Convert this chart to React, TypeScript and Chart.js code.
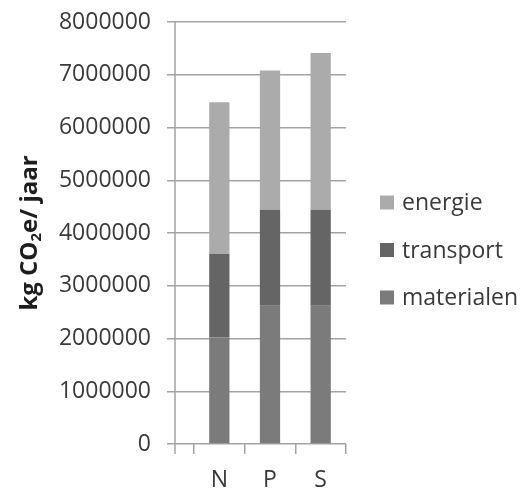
import { useEffect, useRef } from 'react';
import { Chart, registerables } from 'chart.js';

Chart.register(...registerables);

// Categories and stacked series (kg CO2e per year)
const categories = ['N', 'P', 'S'];
const materialen = [2020000, 2620000, 2620000];
const transport = [1580000, 1820000, 1820000];
const energie = [2880000, 2640000, 2970000];

// Value axis range
const yMin = 0;
const yMax = 8000000;
const yStep = 1000000;

// Axis title pieces (the "2" is drawn as a subscript)
const titleHead = 'kg CO';
const titleSub = '2';
const titleTail = 'e/ jaar';

const FONT = '"Open Sans", "Liberation Sans", sans-serif';
const GRID = '#a3a3a3';
const TEXT = '#3a3a3a';

const axisExtension = {
  id: 'axisExtension',
  beforeDatasetsDraw(chart: any) {
    const { ctx, chartArea } = chart;
    const x = chartArea.left - 19;
    ctx.save();
    ctx.strokeStyle = GRID;
    ctx.lineWidth = 1.5;
    ctx.beginPath();
    ctx.moveTo(x, chartArea.top);
    ctx.lineTo(x, chartArea.bottom + 10);
    ctx.stroke();
    ctx.restore();
  },
};

const yAxisTitle = {
  id: 'yAxisTitle',
  afterDraw(chart: any) {
    const { ctx, chartArea } = chart;
    const big = `bold 24px ${FONT}`;
    const small = `bold 15px ${FONT}`;
    ctx.save();
    ctx.translate(37, (chartArea.top + chartArea.bottom) / 2);
    ctx.rotate(-Math.PI / 2);
    ctx.textBaseline = 'alphabetic';
    ctx.textAlign = 'left';
    ctx.fillStyle = '#1e1e1e';
    ctx.font = big;
    const w1 = ctx.measureText(titleHead).width;
    const w3 = ctx.measureText(titleTail).width;
    ctx.font = small;
    const w2 = ctx.measureText(titleSub).width;
    let x = -(w1 + w2 + w3) / 2;
    ctx.font = big;
    ctx.fillText(titleHead, x, 0);
    x += w1;
    ctx.font = small;
    ctx.fillText(titleSub, x, 4);
    x += w2;
    ctx.font = big;
    ctx.fillText(titleTail, x, 0);
    ctx.restore();
  },
};

const sideLegend = {
  id: 'sideLegend',
  afterDraw(chart: any) {
    const { ctx, chartArea } = chart;
    const items = chart.data.datasets.slice().reverse();
    const x0 = chartArea.right + 34;
    const step = 47.5;
    const mid = (chartArea.top + chartArea.bottom) / 2 + 17;
    ctx.save();
    ctx.font = `23px ${FONT}`;
    ctx.textBaseline = 'middle';
    ctx.textAlign = 'left';
    items.forEach((ds: any, i: number) => {
      const cy = mid + (i - (items.length - 1) / 2) * step;
      ctx.fillStyle = ds.backgroundColor;
      ctx.fillRect(x0, cy - 7, 14, 14);
      ctx.fillStyle = TEXT;
      ctx.fillText(ds.label, x0 + 22, cy + 1);
    });
    ctx.restore();
  },
};

export default function App() {
  const canvasRef = useRef<HTMLCanvasElement | null>(null);

  useEffect(() => {
    const canvas = canvasRef.current;
    if (!canvas) return;
    const chart = new Chart(canvas, {
      type: 'bar',
      data: {
        labels: categories,
        datasets: [
          { label: 'materialen', data: materialen, backgroundColor: '#7b7b7b' },
          { label: 'transport', data: transport, backgroundColor: '#656565' },
          { label: 'energie', data: energie, backgroundColor: '#ababab' },
        ],
      },
      options: {
        responsive: false,
        animation: false,
        maintainAspectRatio: false,
        layout: { padding: { top: 22, right: 178, bottom: 0, left: 0 } },
        datasets: { bar: { barPercentage: 0.4, categoryPercentage: 1 } },
        plugins: {
          legend: { display: false },
          tooltip: { enabled: false },
          title: { display: false },
        },
        scales: {
          x: {
            stacked: true,
            border: { display: false },
            grid: {
              display: true,
              drawOnChartArea: false,
              drawTicks: true,
              tickLength: 10,
              offset: true,
              color: GRID,
              lineWidth: 1.5,
            },
            ticks: {
              color: TEXT,
              font: { family: FONT, size: 23 },
              padding: 13,
              maxRotation: 0,
            },
            afterFit: (s: any) => {
              s.height = 44;
              s.paddingLeft = 0;
              s.paddingRight = 0;
            },
          },
          y: {
            stacked: true,
            min: yMin,
            max: yMax,
            border: { display: false },
            grid: {
              color: GRID,
              lineWidth: 1.5,
              tickLength: 27,
              drawTicks: true,
            },
            ticks: {
              stepSize: yStep,
              color: TEXT,
              font: { family: FONT, size: 23 },
              padding: 16,
              callback: (v: any) => String(v),
            },
            afterFit: (s: any) => {
              s.width = 194;
              s.paddingTop = 0;
              s.paddingBottom = 0;
            },
          },
        },
      },
      plugins: [axisExtension, yAxisTitle, sideLegend],
    });
    return () => chart.destroy();
  }, []);

  return (
    <div style={{ position: 'fixed', left: 0, top: 0, width: 524, height: 488, background: '#fff' }}>
      <canvas ref={canvasRef} width={524} height={488} style={{ display: 'block' }} />
    </div>
  );
}
